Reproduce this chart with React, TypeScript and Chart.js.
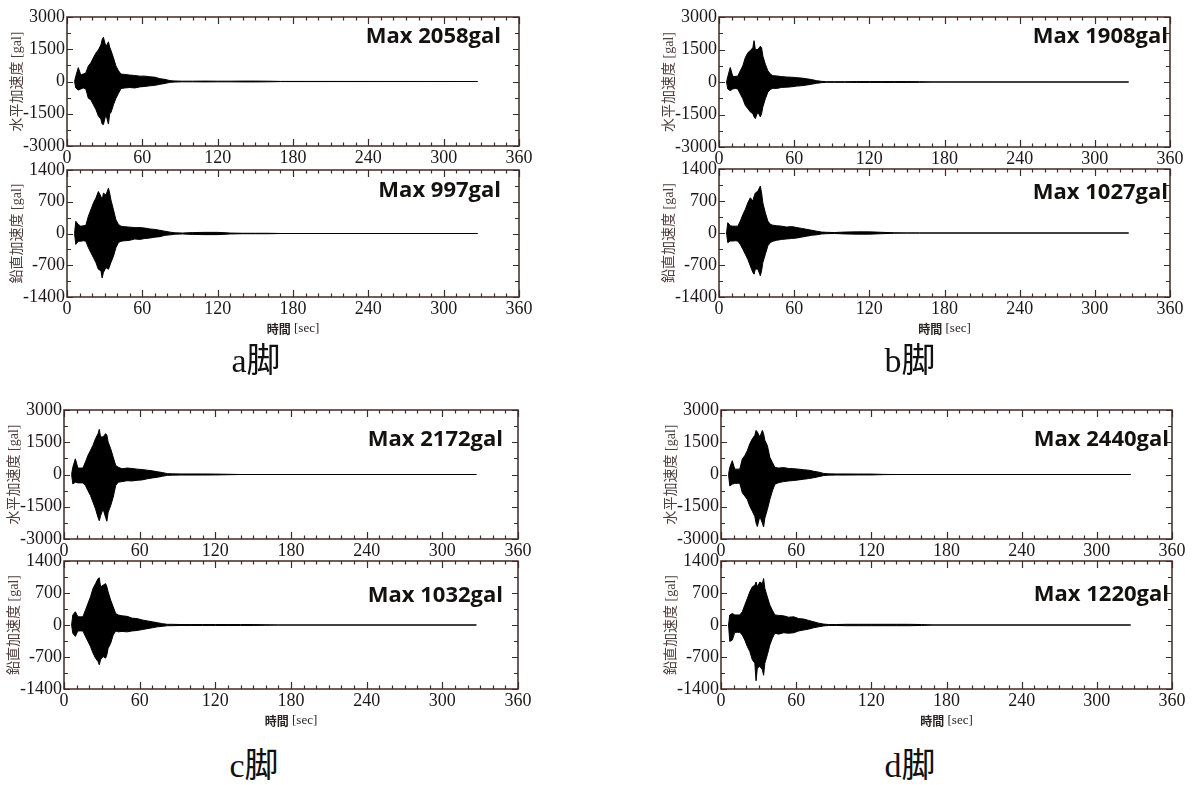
import React, { useEffect, useRef } from "react";
import { Chart, registerables } from "chart.js";
Chart.register(...registerables);

// ---------- data (envelopes of the acceleration records) ----------
const envTime = [6, 7, 9, 11, 13, 15, 17, 19, 21, 23, 25, 27, 28, 29, 31, 33, 34, 35, 37, 39, 41, 43, 46, 50, 54, 58, 62, 66, 70, 74, 78, 82, 86, 92, 100, 110, 120, 130, 140, 150, 160, 170, 327];

const aHorizUp = [0, 250, 645, 300, 350, 400, 720, 870, 1100, 1320, 1470, 1700, 1950, 2058, 1620, 1845, 1600, 1450, 1100, 720, 500, 345, 330, 300, 280, 250, 250, 220, 200, 130, 100, 40, 25, 15, 15, 20, 15, 15, 20, 20, 15, 5, 0];
const aHorizLo = [0, -300, -400, -350, -300, -350, -780, -850, -1080, -1300, -1600, -1750, -1980, -2000, -1530, -1980, -1500, -1450, -1080, -780, -550, -330, -300, -280, -300, -250, -230, -200, -180, -130, -90, -40, -25, -15, -15, -20, -15, -15, -20, -20, -15, -5, 0];
const aVertUp = [0, 270, 200, 160, 170, 180, 380, 525, 670, 780, 925, 820, 740, 890, 850, 997, 890, 740, 525, 300, 200, 160, 150, 140, 130, 130, 120, 100, 90, 70, 50, 30, 15, 10, 20, 25, 25, 10, 5, 5, 5, 0, 0];
const aVertLo = [0, -240, -170, -170, -160, -170, -310, -420, -530, -640, -790, -820, -980, -860, -750, -790, -715, -640, -500, -310, -200, -170, -160, -150, -120, -130, -110, -100, -80, -70, -40, -30, -15, -10, -20, -25, -25, -10, -5, -5, -5, 0, 0];

const bHorizUp = [0, 250, 670, 260, 260, 270, 520, 745, 1125, 1350, 1450, 1580, 1908, 1500, 1500, 1650, 1580, 1200, 820, 520, 365, 290, 280, 250, 230, 220, 200, 180, 150, 110, 60, 30, 15, 15, 15, 20, 20, 20, 20, 20, 15, 5, 0];
const bHorizLo = [0, -320, -400, -320, -300, -320, -550, -775, -1080, -1230, -1380, -1460, -1610, -1690, -1380, -1610, -1460, -1150, -775, -470, -350, -290, -300, -250, -240, -220, -190, -170, -140, -100, -60, -30, -15, -15, -15, -20, -20, -20, -20, -20, -15, -5, 0];
const bVertUp = [0, 225, 160, 150, 150, 150, 260, 400, 515, 660, 770, 700, 800, 875, 915, 1027, 875, 660, 440, 260, 190, 170, 160, 150, 130, 140, 120, 100, 80, 60, 40, 20, 15, 10, 20, 25, 25, 15, 5, 0, 0, 0, 0];
const bVertLo = [0, -210, -175, -175, -170, -175, -250, -355, -465, -575, -720, -860, -900, -790, -790, -935, -825, -645, -465, -280, -210, -180, -160, -140, -130, -120, -110, -90, -70, -50, -40, -20, -15, -10, -20, -25, -25, -15, -5, 0, 0, 0, 0];

const cHorizUp = [0, 340, 730, 300, 300, 300, 580, 890, 1120, 1360, 1670, 1900, 2100, 1750, 1750, 1900, 1830, 1510, 1200, 810, 420, 340, 265, 300, 280, 250, 230, 200, 170, 130, 90, 40, 30, 25, 25, 25, 20, 10, 0, 0, 0, 0, 0];
const cHorizLo = [0, -440, -360, -390, -390, -390, -515, -750, -980, -1290, -1600, -2000, -2150, -1920, -1600, -2000, -2172, -1760, -1450, -1060, -510, -360, -330, -290, -300, -270, -250, -200, -160, -130, -80, -40, -30, -25, -25, -25, -20, -10, 0, 0, 0, 0, 0];
const cVertUp = [0, 220, 290, 180, 180, 180, 325, 470, 615, 800, 905, 1015, 1032, 835, 870, 905, 835, 725, 545, 400, 250, 220, 200, 190, 150, 140, 110, 90, 70, 50, 30, 15, 15, 10, 10, 10, 10, 10, 10, 10, 5, 0, 0];
const cVertLo = [0, -180, -250, -130, -130, -130, -250, -360, -470, -615, -725, -800, -870, -760, -690, -725, -650, -510, -400, -220, -130, -150, -140, -150, -130, -120, -100, -80, -60, -40, -30, -15, -15, -10, -10, -10, -10, -10, -10, -10, -5, 0, 0];

const dHorizUp = [0, 330, 640, 250, 250, 250, 720, 880, 1110, 1430, 1660, 1820, 2050, 1980, 1740, 2050, 1900, 1590, 1350, 800, 565, 330, 300, 320, 280, 270, 250, 220, 200, 150, 110, 50, 30, 25, 25, 20, 20, 5, 0, 0, 0, 0, 0];
const dHorizLo = [0, -530, -450, -410, -410, -410, -850, -1000, -1160, -1480, -1710, -1950, -2260, -2420, -1950, -2260, -2440, -2030, -1630, -1160, -770, -455, -380, -330, -300, -280, -250, -220, -190, -150, -100, -50, -30, -25, -25, -20, -20, -5, 0, 0, 0, 0, 0];
const dVertUp = [0, 220, 250, 220, 220, 220, 290, 435, 580, 725, 835, 870, 940, 835, 940, 905, 1015, 800, 615, 435, 325, 220, 210, 200, 170, 180, 140, 130, 100, 70, 40, 20, 10, 10, 15, 15, 15, 15, 15, 15, 10, 0, 0];
const dVertLo = [0, -360, -330, -160, -160, -160, -220, -330, -470, -580, -760, -835, -1220, -940, -905, -980, -1100, -835, -650, -435, -290, -180, -200, -170, -180, -170, -130, -110, -90, -60, -40, -20, -10, -10, -15, -15, -15, -15, -15, -15, -10, 0, 0];

const maxLabelsH = ["Max 2058gal", "Max 1908gal", "Max 2172gal", "Max 2440gal"];
const maxLabelsV = ["Max 997gal", "Max 1027gal", "Max 1032gal", "Max 1220gal"];
const panelNames = ["a脚", "b脚", "c脚", "d脚"];
const yTitleH = "水平加速度 [gal]";
const yTitleV = "鉛直加速度 [gal]";
const xTitleJa = "時間";
const xTitleUnit = "[sec]";

const xMin = 0, xMax = 360, xStep = 60, xMinor = 10;
const hRange = 3000, hStep = 1500;
const vRange = 1400, vStep = 700;

// ---------- layout / style ----------
const FRAME = "#3f2a26";
const TEXT = "#1d1818";
const YW = 66, PADT = 14, PADR = 26;

type Box = { L: number; T: number; R: number; B: number };
type Sub = {
  up: number[]; lo: number[]; range: number; step: number; yTitle: string;
  maxLabel: string; box: Box; bottom: boolean; labelInset: number; labelDy: number;
};

const subs: Sub[] = [
  { up: aHorizUp, lo: aHorizLo, range: hRange, step: hStep, yTitle: yTitleH, maxLabel: maxLabelsH[0], box: { L: 67, T: 17, R: 519, B: 146 }, bottom: false, labelInset: 18, labelDy: 20 },
  { up: aVertUp, lo: aVertLo, range: vRange, step: vStep, yTitle: yTitleV, maxLabel: maxLabelsV[0], box: { L: 67, T: 170, R: 519, B: 297 }, bottom: true, labelInset: 18, labelDy: 21 },
  { up: bHorizUp, lo: bHorizLo, range: hRange, step: hStep, yTitle: yTitleH, maxLabel: maxLabelsH[1], box: { L: 719, T: 17, R: 1170, B: 147 }, bottom: false, labelInset: 2, labelDy: 20 },
  { up: bVertUp, lo: bVertLo, range: vRange, step: vStep, yTitle: yTitleV, maxLabel: maxLabelsV[1], box: { L: 719, T: 169, R: 1170, B: 297 }, bottom: true, labelInset: 2, labelDy: 24 },
  { up: cHorizUp, lo: cHorizLo, range: hRange, step: hStep, yTitle: yTitleH, maxLabel: maxLabelsH[2], box: { L: 64, T: 410, R: 518, B: 539 }, bottom: false, labelInset: 15, labelDy: 30 },
  { up: cVertUp, lo: cVertLo, range: vRange, step: vStep, yTitle: yTitleV, maxLabel: maxLabelsV[2], box: { L: 64, T: 561, R: 518, B: 689 }, bottom: true, labelInset: 15, labelDy: 35 },
  { up: dHorizUp, lo: dHorizLo, range: hRange, step: hStep, yTitle: yTitleH, maxLabel: maxLabelsH[3], box: { L: 721, T: 410, R: 1172, B: 539 }, bottom: false, labelInset: 3, labelDy: 30 },
  { up: dVertUp, lo: dVertLo, range: vRange, step: vStep, yTitle: yTitleV, maxLabel: maxLabelsV[3], box: { L: 721, T: 561, R: 1172, B: 689 }, bottom: true, labelInset: 3, labelDy: 34 },
];

const titles = [
  { text: panelNames[0], x: 256, y: 361 },
  { text: panelNames[1], x: 910, y: 361 },
  { text: panelNames[2], x: 254, y: 766 },
  { text: panelNames[3], x: 910, y: 766 },
];

function SubChart({ cfg }: { cfg: Sub }) {
  const ref = useRef<HTMLCanvasElement>(null);
  const XH = cfg.bottom ? 48 : 24;
  const w = cfg.box.R - cfg.box.L + YW + PADR;
  const h = cfg.box.B - cfg.box.T + PADT + XH;

  useEffect(() => {
    const framePlugin = {
      id: "frame",
      afterDatasetsDraw(chart: any) {
        const { ctx, chartArea, scales } = chart;
        const { left, top, right, bottom } = chartArea;
        const x = scales.x, y = scales.y;
        ctx.save();
        ctx.strokeStyle = FRAME;
        ctx.lineWidth = 1.5;
        ctx.strokeRect(left, top, right - left, bottom - top);
        ctx.lineWidth = 1.2;
        ctx.beginPath();
        for (let v = xMin; v <= xMax; v += xMinor) {
          const px = Math.round(x.getPixelForValue(v)) + 0.5;
          const len = v % xStep === 0 ? 7 : 3.5;
          ctx.moveTo(px, bottom); ctx.lineTo(px, bottom - len);
          ctx.moveTo(px, top); ctx.lineTo(px, top + len);
        }
        for (let v = -cfg.range; v <= cfg.range; v += cfg.step / 2) {
          const py = Math.round(y.getPixelForValue(v)) + 0.5;
          const len = v % cfg.step === 0 ? 6 : 4;
          ctx.moveTo(left, py); ctx.lineTo(left + len, py);
          ctx.moveTo(right, py); ctx.lineTo(right - len, py);
        }
        ctx.stroke();
        ctx.restore();
      },
      afterDraw(chart: any) {
        const { ctx, chartArea } = chart;
        const { left, top, right, bottom } = chartArea;
        ctx.save();
        ctx.fillStyle = "#151111";
        ctx.font = 'bold 22px "Open Sans"';
        ctx.textAlign = "right";
        ctx.textBaseline = "middle";
        ctx.fillText(cfg.maxLabel, right - cfg.labelInset, top + cfg.labelDy);
        ctx.save();
        ctx.translate(left - 50, (top + bottom) / 2);
        ctx.rotate(-Math.PI / 2);
        ctx.fillStyle = "#4e3d3a";
        ctx.font = '14px "Liberation Serif", "Noto Sans CJK JP"';
        ctx.textAlign = "center";
        ctx.textBaseline = "middle";
        ctx.fillText(cfg.yTitle, 0, 0);
        ctx.restore();
        if (cfg.bottom) {
          const cx = (left + right) / 2;
          const ty = bottom + 32;
          ctx.font = 'bold 12px "Noto Sans CJK JP"';
          const w1 = ctx.measureText(xTitleJa).width;
          ctx.font = '13px "Liberation Serif"';
          const w2 = ctx.measureText(" " + xTitleUnit).width;
          const sx = cx - (w1 + w2) / 2;
          ctx.textAlign = "left";
          ctx.textBaseline = "middle";
          ctx.fillStyle = "#2a2222";
          ctx.font = 'bold 12px "Noto Sans CJK JP"';
          ctx.fillText(xTitleJa, sx, ty);
          ctx.font = '13px "Liberation Serif"';
          ctx.fillText(" " + xTitleUnit, sx + w1, ty);
        }
        ctx.restore();
      },
    };

    const chart = new Chart(ref.current as HTMLCanvasElement, {
      type: "line",
      data: {
        datasets: [
          {
            data: envTime.map((t, i) => ({ x: t, y: cfg.up[i] })),
            borderColor: "#000",
            backgroundColor: "#000",
            borderWidth: 1,
            pointRadius: 0,
            tension: 0,
            fill: "+1",
          },
          {
            data: envTime.map((t, i) => ({ x: t, y: cfg.lo[i] })),
            borderColor: "#000",
            borderWidth: 1,
            pointRadius: 0,
            tension: 0,
            fill: false,
          },
        ],
      },
      options: {
        animation: false,
        responsive: false,
        maintainAspectRatio: false,
        events: [],
        layout: { padding: { left: 0, top: PADT, right: PADR, bottom: 0 } },
        plugins: { legend: { display: false }, tooltip: { enabled: false } },
        scales: {
          x: {
            type: "linear",
            min: xMin,
            max: xMax,
            grid: { display: false, drawTicks: false, tickLength: 0 },
            border: { display: false },
            ticks: {
              stepSize: xStep,
              autoSkip: false,
              maxRotation: 0,
              padding: 1,
              color: TEXT,
              font: { family: '"Liberation Serif"', size: 18 },
              callback: (v: any) => String(v),
            },
            afterFit: (s: any) => { s.height = XH; },
          },
          y: {
            type: "linear",
            min: -cfg.range,
            max: cfg.range,
            grid: { display: false, drawTicks: false, tickLength: 0 },
            border: { display: false },
            ticks: {
              stepSize: cfg.step,
              autoSkip: false,
              padding: 2,
              color: TEXT,
              font: { family: '"Liberation Serif"', size: 18 },
              callback: (v: any) => String(v),
            },
            afterFit: (s: any) => { s.width = YW; },
          },
        },
      },
      plugins: [framePlugin],
    } as any);
    return () => chart.destroy();
  }, []);

  return (
    <canvas
      ref={ref}
      width={w}
      height={h}
      style={{ position: "absolute", left: cfg.box.L - YW, top: cfg.box.T - PADT, width: w, height: h }}
    />
  );
}

export default function App() {
  return (
    <div style={{ position: "absolute", left: 0, top: 0, width: 1200, height: 785, background: "#fff", overflow: "hidden" }}>
      {subs.map((s, i) => (
        <SubChart key={i} cfg={s} />
      ))}
      {titles.map((t, i) => (
        <div
          key={"t" + i}
          style={{
            position: "absolute",
            left: t.x - 60,
            top: t.y - 20,
            width: 120,
            height: 40,
            lineHeight: "40px",
            textAlign: "center",
            fontFamily: '"Liberation Serif", "Noto Sans CJK JP", serif',
            fontSize: 34,
            color: "#111",
          }}
        >
          {t.text}
        </div>
      ))}
    </div>
  );
}
